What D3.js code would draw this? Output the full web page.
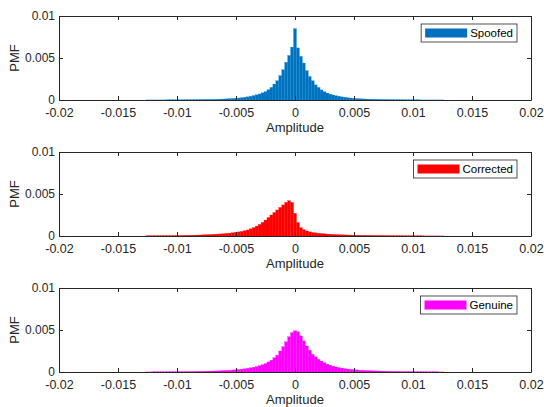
<!DOCTYPE html>
<html>
<head>
<meta charset="utf-8">
<script src="https://cdn.jsdelivr.net/npm/d3@7"></script>
<style>
  body { margin: 0; background: #fff; }
  svg { display: block; font-family: "Liberation Sans", Arial, sans-serif; }
  .axis path, .axis line { stroke: #262626; }
  .axis text { fill: #262626; }
</style>
</head>
<body>
<div class="chart"></div>
<script>
// histogram bins: centers every 0.00025 from -0.0125 to 0.0125 (101 bins)
const binWidth = 0.00025;
const binCenters = d3.range(-50, 51).map(k => k * binWidth);

const spoofed = [
  0.00001,0.00001,0.00001,0.00001,0.00001,0.00001,0.00001,0.00002,0.00002,0.00002,
  0.00002,0.00002,0.00003,0.00003,0.00003,0.00003,0.00004,0.00004,0.00005,0.00005,
  0.00006,0.00006,0.00007,0.00008,0.00009,0.00011,0.00012,0.00014,0.00016,0.00018,
  0.00021,0.00024,0.00028,0.00033,0.00038,0.00045,0.00053,0.00062,0.00072,0.00085,
  0.00100,0.00122,0.0015,0.0019,0.0023,0.0029,0.0036,0.0045,0.0053,0.0063,
  0.0085,
  0.0062,0.0052,0.0044,0.0035,0.0028,0.0023,0.0018,0.0015,0.00120,0.00098,
  0.00083,0.00070,0.00060,0.00051,0.00044,0.00037,0.00032,0.00027,0.00023,0.00020,
  0.00017,0.00015,0.00013,0.00012,0.00010,0.00009,0.00008,0.00007,0.00006,0.00005,
  0.00005,0.00004,0.00004,0.00003,0.00003,0.00003,0.00003,0.00002,0.00002,0.00002,
  0.00002,0.00002,0.00001,0.00001,0.00001,0.00001,0.00001,0.00001,0.00001,0.00001
];

const corrected = [
  0.00002,0.00002,0.00003,0.00003,0.00003,0.00003,0.00004,0.00004,0.00004,0.00005,
  0.00006,0.00006,0.00007,0.00008,0.00009,0.00009,0.00010,0.00011,0.00012,0.00014,
  0.00015,0.00017,0.00019,0.00021,0.00023,0.00025,0.00028,0.00031,0.00034,0.00039,
  0.00044,0.00049,0.00055,0.00063,0.00072,0.00085,0.00100,0.00118,0.00138,0.00162,
  0.0019,0.0022,0.0025,0.0028,0.0031,0.0034,0.0037,0.0040,0.0042,0.0040,
  0.0027,
  0.0016,0.0010,0.00075,0.00060,0.00050,0.00042,0.00037,0.00032,0.00029,0.00026,
  0.00023,0.00021,0.00019,0.00017,0.00015,0.00014,0.00013,0.00012,0.00011,0.00010,
  0.00009,0.00009,0.00008,0.00007,0.00007,0.00006,0.00006,0.00005,0.00005,0.00005,
  0.00004,0.00004,0.00004,0.00003,0.00003,0.00003,0.00003,0.00002,0.00002,0.00002,
  0.00002,0.00002,0.00002,0.00001,0.00001,0.00001,0.00001,0.00001,0.00001,0.00001
];

const genuine = [
  0.00001,0.00001,0.00002,0.00002,0.00002,0.00002,0.00002,0.00003,0.00003,0.00003,
  0.00003,0.00004,0.00004,0.00004,0.00005,0.00005,0.00006,0.00007,0.00007,0.00008,
  0.00009,0.00010,0.00011,0.00012,0.00013,0.00015,0.00017,0.00019,0.00021,0.00024,
  0.00027,0.00030,0.00034,0.00039,0.00044,0.00050,0.00057,0.00065,0.00075,0.00087,
  0.0010,0.0012,0.0014,0.0017,0.0020,0.0025,0.0030,0.0036,0.0042,0.0047,
  0.0049,
  0.0048,0.0043,0.0037,0.0031,0.0026,0.0021,0.0018,0.0015,0.0013,0.0011,
  0.00093,0.00080,0.00069,0.00060,0.00052,0.00046,0.00040,0.00035,0.00031,0.00028,
  0.00025,0.00022,0.00020,0.00018,0.00016,0.00014,0.00013,0.00012,0.00011,0.00010,
  0.00009,0.00008,0.00007,0.00007,0.00006,0.00005,0.00005,0.00005,0.00004,0.00004,
  0.00003,0.00003,0.00003,0.00003,0.00002,0.00002,0.00002,0.00002,0.00001,0.00001
];

const seriesNames = ['Spoofed', 'Corrected', 'Genuine'];
const seriesValues = [spoofed, corrected, genuine];
const seriesColors = ['#0072bd', '#ff0000', '#ff00ff'];

const xTicks = [-0.02, -0.015, -0.01, -0.005, 0, 0.005, 0.01, 0.015, 0.02];
const yTicks = [0, 0.005, 0.01];

const width = 544;
const height = 407;
const left = 59, right = 531;
const panelTops = [16, 152, 288];
const panelHeight = 84;

let svg = d3
    .select('.chart')
    .append('svg')
    .attr('width', width)
    .attr('height', height);

const xScale = d3.scaleLinear()
    .domain([-0.02, 0.02])
    .range([left, right]);

const fmt = d => d === 0 ? '0' : String(+d.toFixed(3));
const barW = xScale(binWidth) - xScale(0);

seriesNames.forEach((name, i) => {
    const top = panelTops[i];
    const bottom = top + panelHeight;
    const yScale = d3.scaleLinear()
        .domain([0, 0.01])
        .range([bottom, top]);

    const data = binCenters.map((c, j) => ({x: c, v: seriesValues[i][j]}));

    const g = svg.append('g');

    g.selectAll('rect.bar')
        .data(data)
        .enter()
        .append('rect')
        .attr('class', 'bar')
        .attr('x', d => xScale(d.x) - barW / 2)
        .attr('y', d => yScale(d.v))
        .attr('width', barW)
        .attr('height', d => bottom - yScale(d.v))
        .attr('fill', seriesColors[i])
        .attr('stroke', d3.color(seriesColors[i]).brighter(0.5))
        .attr('stroke-width', 0.25);

    // bottom and top x axes (ticks pointing inward)
    g.append('g')
        .attr('class', 'axis')
        .attr('transform', `translate(0, ${bottom})`)
        .call(d3.axisBottom(xScale).tickValues(xTicks).tickFormat(fmt).tickSizeInner(-4).tickSizeOuter(0).tickPadding(8))
        .call(a => a.selectAll('text').attr('font-size', 12.5));
    g.append('g')
        .attr('class', 'axis')
        .attr('transform', `translate(0, ${top})`)
        .call(d3.axisTop(xScale).tickValues(xTicks).tickFormat('').tickSizeInner(-4).tickSizeOuter(0));

    // left and right y axes
    g.append('g')
        .attr('class', 'axis')
        .attr('transform', `translate(${left}, 0)`)
        .call(d3.axisLeft(yScale).tickValues(yTicks).tickFormat(fmt).tickSizeInner(-4).tickSizeOuter(0).tickPadding(4))
        .call(a => a.selectAll('text').attr('font-size', 12));
    g.append('g')
        .attr('class', 'axis')
        .attr('transform', `translate(${right}, 0)`)
        .call(d3.axisRight(yScale).tickValues(yTicks).tickFormat('').tickSizeInner(-4).tickSizeOuter(0));

    g.selectAll('.domain').attr('stroke-width', 1);

    // axis titles
    g.append('text')
        .attr('x', (left + right) / 2)
        .attr('y', bottom + 32)
        .attr('text-anchor', 'middle')
        .attr('font-size', 13)
        .attr('fill', '#262626')
        .text('Amplitude');
    g.append('text')
        .attr('transform', `translate(19, ${(top + bottom) / 2}) rotate(-90)`)
        .attr('text-anchor', 'middle')
        .attr('font-size', 13)
        .attr('fill', '#262626')
        .text('PMF');

    // legend
    const leg = g.append('g');
    const legText = leg.append('text')
        .attr('y', top + 21)
        .attr('font-size', 11.5)
        .attr('fill', '#000')
        .text(name);
    const tw = legText.node().getComputedTextLength();
    const boxRight = 517;
    const boxW = 4 + 42 + 3 + tw + 4;
    const boxX = boxRight - boxW;
    leg.insert('rect', 'text')
        .attr('x', boxX)
        .attr('y', top + 8)
        .attr('width', boxW)
        .attr('height', 18)
        .attr('fill', '#fff')
        .attr('stroke', '#262626')
        .attr('stroke-width', 0.8);
    leg.insert('rect', 'text')
        .attr('x', boxX + 4)
        .attr('y', top + 12.5)
        .attr('width', 42)
        .attr('height', 9)
        .attr('fill', seriesColors[i]);
    legText.attr('x', boxX + 4 + 42 + 3);
});
</script>
</body>
</html>
